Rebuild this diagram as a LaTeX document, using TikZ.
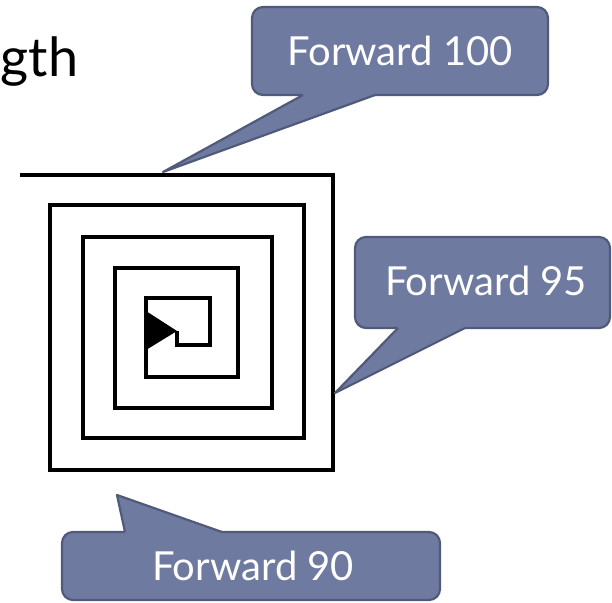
\documentclass[tikz,border=0pt]{standalone}
\usepackage{fontspec}
\setmainfont{Lato}
\begin{document}
\begin{tikzpicture}[x=1pt,y=-1pt,
  spiral/.style={line width=4pt, black, line join=miter},
  cbox/.style={draw=cline, fill=cfill, line width=2.2pt, rounded corners=11pt, inner sep=0pt},
  ctail/.style={fill=cfill},
  cedge/.style={draw=cline, line width=2.2pt, line join=round},
  ctext/.style={text=white, font=\fontsize{40}{48}\selectfont, anchor=base, inner sep=0pt}]
\definecolor{cfill}{RGB}{111,122,161}
\definecolor{cline}{RGB}{80,90,122}
\useasboundingbox (0,0) rectangle (612,602);

% partial heading text
\node[anchor=base west, inner sep=0pt, font=\fontsize{54}{60}\selectfont] (head) at (0.5,76) {gth};

% spiral
\draw[spiral] (20,175) -- (333,175) -- (333,470) -- (50,470) -- (50,205) -- (304,205) -- (304,438)
  -- (83,438) -- (83,237) -- (272,237) -- (272,408) -- (115,408) -- (115,268) -- (238,268)
  -- (238,377) -- (146,377) -- (146,298) -- (210,298) -- (210,345) -- (177,345) -- (177,331);
\fill[black] (146,311) -- (177,331) -- (146,350) -- cycle;

% tips
\coordinate (t100) at (163,172);
\coordinate (t95) at (335,393);
\coordinate (t90) at (117,495);

% callout Forward 100
\path[cbox] (252,7) rectangle (548,95);
\fill[ctail] (303,95) -- (t100) -- (375,95) -- (375,90) -- (303,90) -- cycle;
\draw[cedge] (303,95) -- (t100) -- (375,95);
\node[ctext] (c100) at (400,65) {Forward 100};

% callout Forward 95
\path[cbox] (355,237) rectangle (610,328);
\fill[ctail] (398,328) -- (t95) -- (465,328) -- (465,323) -- (398,323) -- cycle;
\draw[cedge] (398,328) -- (t95) -- (465,328);
\node[ctext] (c95) at (486,295) {Forward 95};

% callout Forward 90
\path[cbox] (62,532) rectangle (440,600);
\fill[ctail] (125,532) -- (t90) -- (222,532) -- (222,537) -- (125,537) -- cycle;
\draw[cedge] (125,532) -- (t90) -- (222,532);
\node[ctext] (c90) at (253,580) {Forward 90};
\end{tikzpicture}
\end{document}
